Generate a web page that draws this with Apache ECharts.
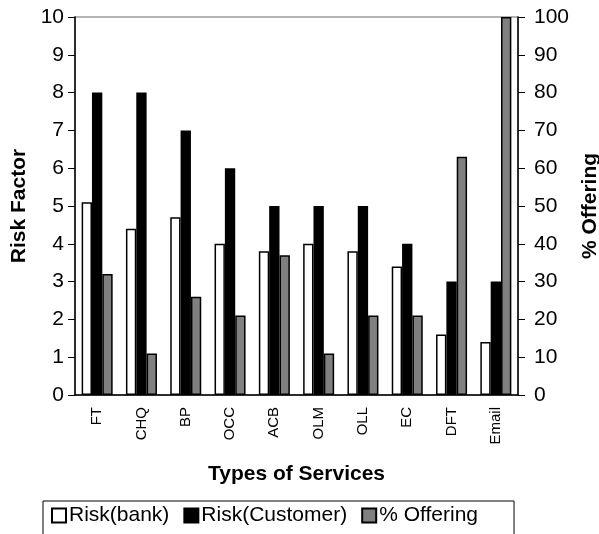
<!DOCTYPE html>
<html>
<head>
<meta charset="utf-8">
<script src="https://cdn.jsdelivr.net/npm/echarts@6/dist/echarts.min.js"></script>
<style>
  html, body { margin: 0; padding: 0; background: #fff; }
  #chart { width: 599px; height: 534px; }
</style>
</head>
<body>
<div id="chart"></div>
<script>
// Service types along the x axis
const categories = ['FT', 'CHQ', 'BP', 'OCC', 'ACB', 'OLM', 'OLL', 'EC', 'DFT', 'Email'];

// Risk factors (left axis, 0-10)
const riskBank = [5.1, 4.4, 4.7, 4.0, 3.8, 4.0, 3.8, 3.4, 1.6, 1.4];
const riskCustomer = [8, 8, 7, 6, 5, 5, 5, 4, 3, 3];

// Share of banks offering the service (right axis, 0-100)
const offering = [32, 11, 26, 21, 37, 11, 21, 21, 63, 100];

const FONT = '"Liberation Sans", Arial, sans-serif';

const chart = echarts.init(document.getElementById('chart'), null, { renderer: 'canvas' });

const barBorder = { borderColor: '#000', borderWidth: 1.5 };

chart.setOption({
  animation: false,
  backgroundColor: '#fff',
  textStyle: { fontFamily: FONT, color: '#000' },
  grid: {
    left: 75, right: 81, top: 17, bottom: 139,
    outerBoundsMode: 'none',
    containLabel: false,
    show: true, borderColor: '#9a9a9a', borderWidth: 1.5, backgroundColor: '#fff'
  },
  legend: {
    left: 43, top: 501,
    padding: [4, 36, 12, 8],
    borderColor: '#000', borderWidth: 1,
    itemWidth: 14, itemHeight: 14, itemGap: 14,
    icon: 'rect',
    textStyle: { fontSize: 21, fontFamily: FONT, color: '#000', padding: [0, 0, 0, -2] },
    data: ['Risk(bank)', 'Risk(Customer)', '% Offering']
  },
  xAxis: {
    type: 'category',
    data: categories,
    name: 'Types of Services',
    nameLocation: 'middle',
    nameGap: 69,
    nameTextStyle: { fontSize: 21, fontWeight: 'bold', fontFamily: FONT, color: '#000' },
    axisLine: { lineStyle: { color: '#000', width: 1.5 } },
    axisTick: { inside: true, length: 6, lineStyle: { color: '#000', width: 1 } },
    axisLabel: { rotate: 90, fontSize: 15, margin: 12, color: '#000', fontFamily: FONT }
  },
  yAxis: [
    {
      type: 'value', min: 0, max: 10, interval: 1,
      name: 'Risk Factor',
      nameLocation: 'middle', nameRotate: 90, nameGap: 37,
      nameTextStyle: { fontSize: 21, fontWeight: 'bold', fontFamily: FONT, color: '#000' },
      axisLine: { show: true, lineStyle: { color: '#000', width: 1.5 } },
      axisTick: { show: true, length: 7, lineStyle: { color: '#000', width: 1 } },
      axisLabel: { fontSize: 21, margin: 11, color: '#000', fontFamily: FONT },
      splitLine: { show: false }
    },
    {
      type: 'value', min: 0, max: 100, interval: 10, position: 'right',
      name: '% Offering',
      nameLocation: 'middle', nameRotate: 90, nameGap: 60,
      nameTextStyle: { fontSize: 21, fontWeight: 'bold', fontFamily: FONT, color: '#000' },
      axisLine: { show: true, lineStyle: { color: '#000', width: 1.5 } },
      axisTick: { show: true, length: 7, lineStyle: { color: '#000', width: 1 } },
      axisLabel: { fontSize: 21, margin: 16, color: '#000', fontFamily: FONT },
      splitLine: { show: false }
    }
  ],
  series: [
    {
      name: 'Risk(bank)', type: 'bar', yAxisIndex: 0, data: riskBank,
      barGap: '0%', barCategoryGap: '30%',
      itemStyle: Object.assign({ color: '#ffffff' }, barBorder)
    },
    {
      name: 'Risk(Customer)', type: 'bar', yAxisIndex: 0, data: riskCustomer,
      barGap: '0%', barCategoryGap: '30%',
      itemStyle: Object.assign({ color: '#000000' }, barBorder)
    },
    {
      name: '% Offering', type: 'bar', yAxisIndex: 1, data: offering,
      barGap: '0%', barCategoryGap: '30%',
      itemStyle: Object.assign({ color: '#808080' }, barBorder)
    }
  ]
});
</script>
</body>
</html>
